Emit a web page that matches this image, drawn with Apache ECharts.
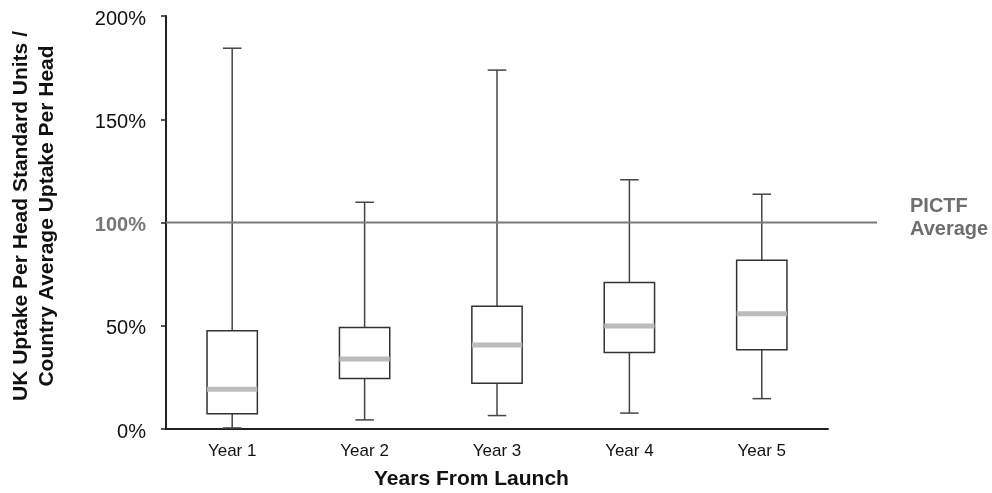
<!DOCTYPE html>
<html>
<head>
<meta charset="utf-8">
<script src="https://cdn.jsdelivr.net/npm/echarts@6/dist/echarts.min.js"></script>
<style>
  html, body { margin: 0; padding: 0; background: #fff; }
  #chart { width: 992px; height: 493px; }
</style>
</head>
<body>
<div id="chart"></div>
<script>
// Box-and-whisker summary per year since launch (values in %)
const categories = ['Year 1', 'Year 2', 'Year 3', 'Year 4', 'Year 5'];
const whiskerLow  = [0.5, 4.4, 6.5, 7.7, 14.7];
const quartile1   = [7.4, 24.4, 22.1, 37.0, 38.4];
const medians     = [19.2, 33.9, 40.7, 49.9, 55.8];
const quartile3   = [47.6, 49.1, 59.4, 71.0, 81.7];
const whiskerHigh = [184.4, 109.8, 173.8, 120.7, 113.7];
const yTicks = [0, 50, 100, 150, 200];
const referenceValue = 100;
const referenceLabel = 'PICTF\nAverage';

const FONT = '"Liberation Sans", Arial, Helvetica, sans-serif';

const boxData = categories.map((c, i) => [i, whiskerLow[i], quartile1[i], medians[i], quartile3[i], whiskerHigh[i]]);

function renderBox(params, api) {
  const i = api.value(0);
  const band = api.size([1, 0])[0];
  const boxW = band * 0.38;
  const capW = band * 0.14;
  const cx = api.coord([i, 0])[0];
  const yLow = api.coord([i, api.value(1)])[1];
  const yQ1 = api.coord([i, api.value(2)])[1];
  const yMed = api.coord([i, api.value(3)])[1];
  const yQ3 = api.coord([i, api.value(4)])[1];
  const yHigh = api.coord([i, api.value(5)])[1];
  const whisk = { stroke: '#444', lineWidth: 1.5 };
  return {
    type: 'group',
    children: [
      { type: 'line', shape: { x1: cx, y1: yQ3, x2: cx, y2: yHigh }, style: whisk },
      { type: 'line', shape: { x1: cx - capW / 2, y1: yHigh, x2: cx + capW / 2, y2: yHigh }, style: whisk },
      { type: 'line', shape: { x1: cx, y1: yQ1, x2: cx, y2: yLow }, style: whisk },
      { type: 'line', shape: { x1: cx - capW / 2, y1: yLow, x2: cx + capW / 2, y2: yLow }, style: whisk },
      { type: 'rect', shape: { x: cx - boxW / 2, y: yQ3, width: boxW, height: yQ1 - yQ3 },
        style: { fill: '#fff', stroke: '#333', lineWidth: 1.5 } },
      { type: 'line', shape: { x1: cx - boxW / 2, y1: yMed, x2: cx + boxW / 2, y2: yMed },
        style: { stroke: '#bcbcbc', lineWidth: 5 } }
    ]
  };
}

function renderReference(params, api) {
  const cs = params.coordSys;
  const y = api.coord([0, api.value(1)])[1];
  const xEnd = cs.x + cs.width + 49;
  return {
    type: 'group',
    children: [
      { type: 'line', shape: { x1: cs.x, y1: y, x2: xEnd, y2: y },
        style: { stroke: '#7a7a7a', lineWidth: 2 } },
      { type: 'text', x: xEnd + 33, y: y - 5,
        style: { text: referenceLabel, fill: '#6e6e6e', font: 'bold 20px ' + FONT,
                 align: 'left', verticalAlign: 'middle', lineHeight: 23 } }
    ]
  };
}

const chart = echarts.init(document.getElementById('chart'));
chart.setOption({
  animation: false,
  backgroundColor: '#fff',
  grid: { left: 166, top: 16, width: 662, height: 413, containLabel: false },
  title: {
    text: 'Years From Launch',
    left: 374, top: 469,
    textStyle: { fontFamily: FONT, fontSize: 21, fontWeight: 'bold', color: '#111' },
    padding: 0
  },
  graphic: [{
    type: 'text',
    x: 34, y: 216,
    rotation: Math.PI / 2,
    style: {
      text: 'UK Uptake Per Head Standard Units /\nCountry Average Uptake Per Head',
      font: 'bold 21px ' + FONT, fill: '#111',
      align: 'center', verticalAlign: 'middle', lineHeight: 26
    }
  }],
  xAxis: {
    type: 'category',
    data: categories,
    axisLine: { show: true, lineStyle: { color: '#222', width: 2 } },
    axisTick: { show: false },
    axisLabel: { fontFamily: FONT, fontSize: 17, color: '#111', margin: 14 },
    splitLine: { show: false }
  },
  yAxis: {
    type: 'value',
    min: yTicks[0], max: yTicks[yTicks.length - 1], interval: yTicks[1] - yTicks[0],
    axisLine: { show: true, lineStyle: { color: '#222', width: 2 } },
    axisTick: { show: true, length: 5, lineStyle: { color: '#222', width: 1.5 } },
    splitLine: { show: false },
    axisLabel: {
      fontFamily: FONT, fontSize: 20, color: '#111', margin: 20,
      padding: [6, 0, 0, 0],
      formatter: v => v === referenceValue ? '{ref|' + v + '%}' : v + '%',
      rich: { ref: { fontFamily: FONT, fontSize: 20, fontWeight: 'bold', color: '#777' } }
    }
  },
  series: [
    {
      type: 'custom',
      renderItem: renderBox,
      encode: { x: 0, y: [1, 2, 3, 4, 5] },
      data: boxData,
      z: 2
    },
    {
      type: 'custom',
      renderItem: renderReference,
      encode: { x: 0, y: 1 },
      data: [[0, referenceValue]],
      clip: false,
      silent: true,
      z: 3
    }
  ]
});
</script>
</body>
</html>
